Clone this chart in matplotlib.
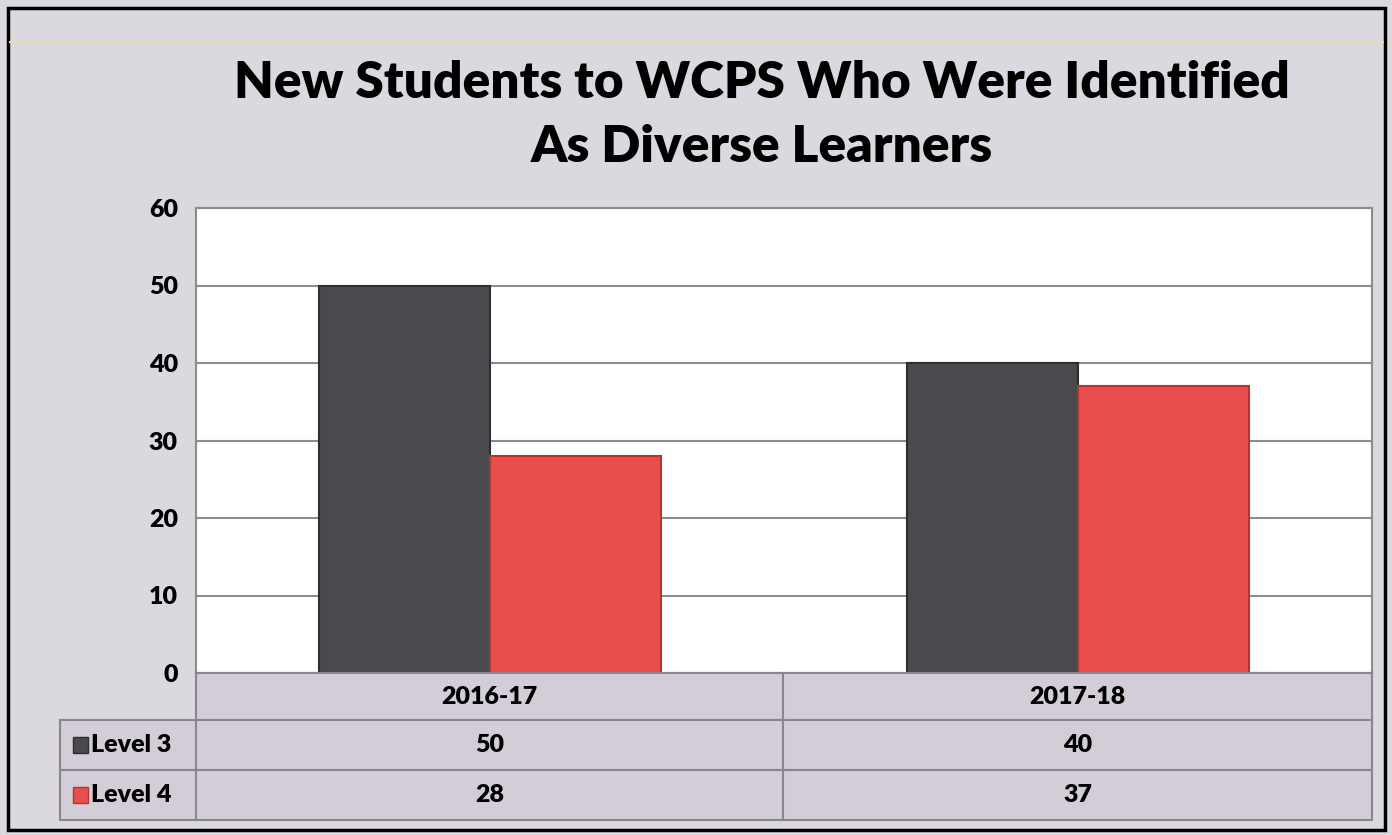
import matplotlib.pyplot as plt
from matplotlib.patches import Rectangle
import numpy as np

title = "New Students to WCPS Who Were Identified\nAs Diverse Learners"
years = ["2016-17", "2017-18"]
series = ["Level 3", "Level 4"]
level3 = [50, 40]
level4 = [28, 37]
colors = ["#4a4a4e", "#e84f4c"]
edges = ["#2e2e30", "#b83432"]

W, H = 1392, 835
fig = plt.figure(figsize=(W / 100, H / 100), dpi=100)
fig.patch.set_facecolor("#dcd8e0")
plt.rcParams["font.family"] = ["Lato", "DejaVu Sans"]


def fx(px):
    return px / W


def fy(py):
    return 1 - py / H


# frame of the slide
fig.patches.append(Rectangle((fx(8), fy(830)), fx(1377), (822) / H, transform=fig.transFigure,
                             fill=False, edgecolor="black", linewidth=2.5))
fig.lines.append(plt.Line2D([fx(10), fx(1383)], [fy(42), fy(42)], transform=fig.transFigure,
                            color="#e8dcb0", linewidth=1.5))

left, right, top, bottom = 196, 1372, 208, 673
ax = fig.add_axes([fx(left), fy(bottom), fx(right - left), (bottom - top) / H])
ax.set_facecolor("white")

x = np.arange(len(years))
bw = 0.29
ax.bar(x - bw / 2, level3, bw, color=colors[0], edgecolor=edges[0], linewidth=1.5, zorder=3)
ax.bar(x + bw / 2, level4, bw, color=colors[1], edgecolor=edges[1], linewidth=1.5, zorder=3)

ax.set_xlim(-0.5, 1.5)
ax.set_ylim(0, 60)
ax.set_yticks(range(0, 61, 10))
ax.set_xticks([])
ax.yaxis.grid(True, color="#8c8c8c", linewidth=1.5, zorder=0)
ax.tick_params(axis="y", length=0, pad=13, labelsize=18)
for lab in ax.get_yticklabels():
    lab.set_fontweight("heavy")
for s in ax.spines.values():
    s.set_color("#8c8c8c")
    s.set_linewidth(1.5)

fig.text(fx(762), fy(115), title, ha="center", va="center", fontsize=37, fontweight="heavy",
         linespacing=1.45)

# data table below the axis
rows = [673, 720, 770, 820]
tleft, split = 60, 783
cell_bg = "#d2cdd6"
line_c = "#8a8690"
fig.patches.append(Rectangle((fx(left), fy(rows[1])), fx(right - left), (rows[1] - rows[0]) / H,
                             transform=fig.transFigure, facecolor=cell_bg, edgecolor=line_c, linewidth=1.5))
for i in range(2):
    fig.patches.append(Rectangle((fx(tleft), fy(rows[i + 2])), fx(right - tleft), (rows[i + 2] - rows[i + 1]) / H,
                                 transform=fig.transFigure, facecolor=cell_bg, edgecolor=line_c, linewidth=1.5))
fig.lines.append(plt.Line2D([fx(left), fx(left)], [fy(rows[1]), fy(rows[3])], transform=fig.transFigure,
                            color=line_c, linewidth=1.5))
fig.lines.append(plt.Line2D([fx(split), fx(split)], [fy(rows[0]), fy(rows[3])], transform=fig.transFigure,
                            color=line_c, linewidth=1.5))

col_centers = [(left + split) / 2, (split + right) / 2]
for cx, yr in zip(col_centers, years):
    fig.text(fx(cx), fy((rows[0] + rows[1]) / 2), yr, ha="center", va="center",
             fontsize=18, fontweight="heavy")

for i, (name, vals) in enumerate(zip(series, [level3, level4])):
    cy = (rows[i + 1] + rows[i + 2]) / 2
    fig.patches.append(Rectangle((fx(73), fy(cy + 8)), fx(15), 16 / H, transform=fig.transFigure,
                                 facecolor=colors[i], edgecolor=edges[i], linewidth=1))
    fig.text(fx(91), fy(cy), name, ha="left", va="center", fontsize=18, fontweight="heavy")
    for cx, v in zip(col_centers, vals):
        fig.text(fx(cx), fy(cy), str(v), ha="center", va="center", fontsize=18, fontweight="heavy")

fig.savefig("out.png", dpi=100, facecolor=fig.get_facecolor())
